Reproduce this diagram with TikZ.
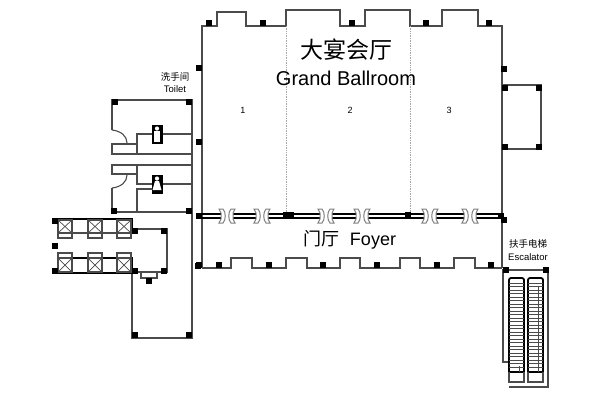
\documentclass[tikz,border=0pt]{standalone}
\usepackage{fontspec}
\setmainfont{Liberation Sans}
\newfontfamily\cjkfont{Noto Sans CJK SC}
\definecolor{wallgray}{RGB}{75, 75, 75}
\tikzset{
  wall/.style={draw=wallgray, line width=1.1pt},
  heavywall/.style={draw=black, line width=1.8pt},
  thinwall/.style={draw=black, line width=1.2pt},
  doorleaf/.style={draw=gray, fill=white, line width=1pt},
  partition/.style={draw=gray!70, line width=0.7pt, densely dotted},
  post/.style={fill=black, draw=none},
  smalltext/.style={font=\fontsize{9.5}{11}\selectfont, inner sep=0pt, align=center},
  numtext/.style={font=\fontsize{9}{11}\selectfont, inner sep=0pt},
}
\newcommand{\postat}[2]{\fill[post] (#1-3.4,#2-3.4) rectangle (#1+3.4,#2+3.4);}
\begin{document}
\begin{tikzpicture}[x=1pt,y=-1pt]
  \useasboundingbox[fill=white] (0,0) rectangle (600,400);

  % ballroom outline
  \draw[wall] (202,268) -- (202,26) -- (217,26) -- (217,12) -- (246,12) -- (246,26) -- (286,26) -- (286,10) -- (340,10) -- (340,26)
              -- (365,26) -- (365,10) -- (410,10) -- (410,26) -- (442,26) -- (442,10) -- (478,10) -- (478,26) -- (502,26) -- (502,268);
  \draw[wall] (202,268) -- (231,268) -- (231,258) -- (252,258) -- (252,268) -- (286,268) -- (286,258) -- (307,258) -- (307,268)
              -- (340,268) -- (340,258) -- (360,258) -- (360,268) -- (400,268) -- (400,258) -- (420,258) -- (420,268)
              -- (454,268) -- (454,258) -- (475,258) -- (475,268) -- (502,268);
  \draw[partition] (286,26) -- (286,213);
  \draw[partition] (410,26) -- (410,213);
  \draw[wall] (502,85) -- (541,85) -- (541,149) -- (502,149);

  % foyer doors
  \foreach \xa/\xb in {200/222, 268/321, 368/425, 475/501}{
    \draw[heavywall] (\xa,214) -- (\xb,214);
    \draw[heavywall] (\xa,218) -- (\xb,218);
  }
  \foreach \xa/\xb in {232/257, 331/357, 435/465}{
    \draw[thinwall] (\xa,214) -- (\xb,214);
    \draw[thinwall] (\xa,218) -- (\xb,218);
  }
  \foreach \xc in {227,262,326,362,430,470}{
    \draw[doorleaf] (\xc-8,209) -- (\xc-4,209) .. controls (\xc-1,212) and (\xc-1,220) .. (\xc-4,223) -- (\xc-8,223)
                    -- (\xc-6,219) -- (\xc-6,213) -- cycle;
    \draw[doorleaf] (\xc+8,209) -- (\xc+4,209) .. controls (\xc+1,212) and (\xc+1,220) .. (\xc+4,223) -- (\xc+8,223)
                    -- (\xc+6,219) -- (\xc+6,213) -- cycle;
  }

  % toilets
  \draw[wall] (112,130) -- (112,100) -- (192,100) -- (192,338) -- (132,338) -- (132,272);
  \draw[wall] (112,188) -- (112,212) -- (192,212);
  \draw[wall] (112,130) .. controls (121,131) and (127,136) .. (127,143);
  \draw[wall] (112,188) .. controls (121,187) and (127,182) .. (127,175);
  \draw[wall] (137,144) -- (112,144) -- (112,154) -- (192,154);
  \draw[wall] (137,154) -- (137,134) -- (192,134);
  \draw[wall] (192,165) -- (112,165) -- (112,174) -- (137,174);
  \draw[wall] (137,165) -- (137,184) -- (192,184);
  \draw[wall] (155,189) -- (137,189) -- (137,212);
  \fill[black] (151.5,125) rectangle (162.5,144);
  \fill[white] (157,128.5) circle (2.1);
  \fill[white] (154,131) rectangle (160,141.5);
  \fill[black] (151.5,175) rectangle (162.5,194);
  \fill[white] (157,178.5) circle (2.1);
  \fill[white] (155,181) -- (159,181) -- (161.5,190) -- (152.5,190) -- cycle;

  % lifts
  \draw[wall] (132,229) -- (167,229) -- (167,272) -- (132,272);
  \draw[wall] (141,272) -- (141,278) -- (157,278) -- (157,272);
  \draw[wall] (58,233) -- (132,233);
  \draw[heavywall] (58,238) -- (58,219) -- (132,219) -- (132,233);
  \draw[heavywall] (58,253) -- (58,273) -- (132,273) -- (132,258) -- (58,258);
  \foreach \xa in {58,88,117}{
    \draw[wall] (\xa,220) rectangle (\xa+14,233);
    \draw[wallgray, line width=0.7pt] (\xa,220) -- (\xa+14,233);
    \draw[wallgray, line width=0.7pt] (\xa+14,220) -- (\xa,233);
    \draw[wall] (\xa,233) -- (\xa,238) -- (\xa+14,238) -- (\xa+14,233);
    \draw[wall] (\xa,258) rectangle (\xa+14,272);
    \draw[wallgray, line width=0.7pt] (\xa,258) -- (\xa+14,272);
    \draw[wallgray, line width=0.7pt] (\xa+14,258) -- (\xa,272);
    \draw[wall] (\xa,258) -- (\xa,253) -- (\xa+14,253) -- (\xa+14,258);
  }

  % escalators
  \draw[wall] (509,362) -- (503,362) -- (503,270) -- (548,270) -- (548,387) -- (509,387);
  \foreach \xa in {509,528}{
    \draw[heavywall, rounded corners=2pt] (\xa,372) -- (\xa,278) -- (\xa+15,278) -- (\xa+15,372);
    \draw[heavywall] (\xa,372) -- (\xa+15,372);
    \draw[wall] (\xa,372) -- (\xa,382) -- (\xa+15,382) -- (\xa+15,372);
    \foreach \ys in {0,...,24}{
      \draw[wallgray, line width=0.7pt] (\xa,283+3.5*\ys) -- (\xa+15,283+3.5*\ys);
    }
  }
  \draw[wallgray, line width=0.8pt] (538,372) -- (538,286);
  \draw[wallgray, line width=0.8pt] (519,366) -- (519,372);

  % posts
  \foreach \xp/\yp in {209/23, 263/23, 352/23, 426/23, 489/23, 199/68, 504/69, 199/142,
                       505/88, 539/88, 505/147, 539/147, 199/216, 286/215, 291/215, 408/215, 501/216, 504/220,
                       199/265, 219/265, 269/265, 323/265, 377/265, 437/265, 491/265, 506/270, 546/270,
                       115/102, 189/102, 114/211, 189/211, 198/266,
                       55/221, 55/246, 55/271, 135/231, 135/271, 164/231, 164/271, 149/281, 135/335, 189/335}{
    \postat{\xp}{\yp}
  }

  % labels
  \node[inner sep=0pt, font=\cjkfont\fontsize{23}{25}\selectfont] (ballroomcn) at (346,50) {大宴会厅};
  \node[inner sep=0pt, font=\fontsize{20}{22}\selectfont] (ballroomen) at (346,78) {Grand Ballroom};
  \node[numtext] (roomone) at (243,110) {1};
  \node[numtext] (roomtwo) at (350,110) {2};
  \node[numtext] (roomthree) at (449,110) {3};
  \node[inner sep=0pt, font=\fontsize{18}{20}\selectfont] (foyer) at (350,240) {{\cjkfont 门厅}\ \ Foyer};
  \node[smalltext] (toiletcn) at (175,77) {\cjkfont 洗手间};
  \node[smalltext] (toileten) at (175,89) {Toilet};
  \node[smalltext] (escalatorcn) at (528,244) {\cjkfont 扶手电梯};
  \node[smalltext] (escalatoren) at (528,257) {Escalator};
\end{tikzpicture}
\end{document}
